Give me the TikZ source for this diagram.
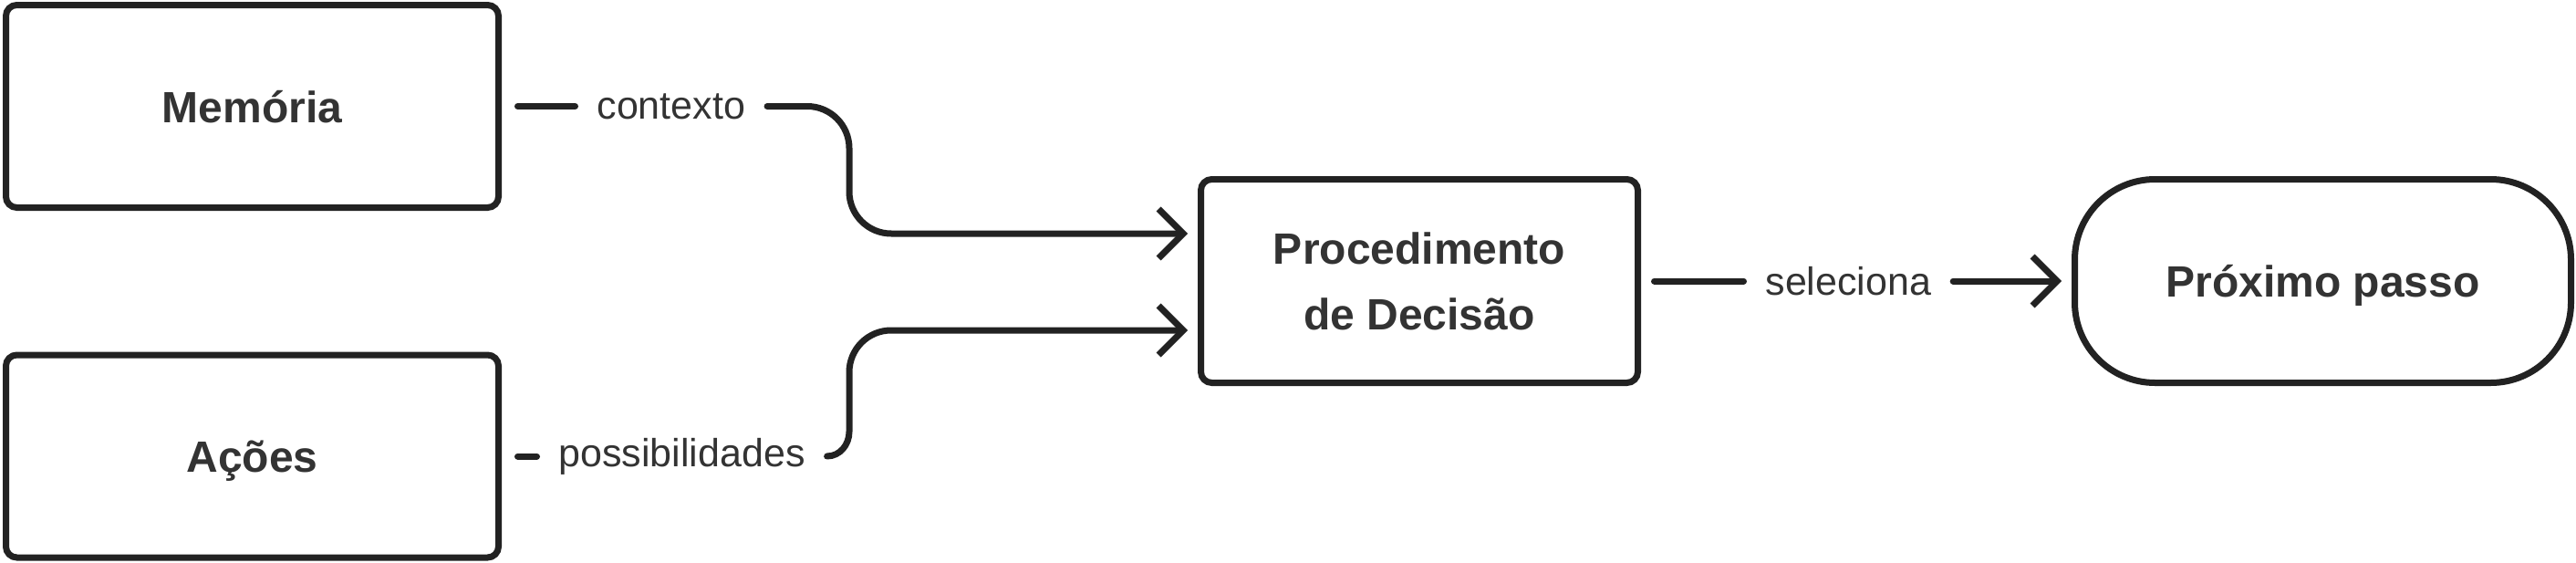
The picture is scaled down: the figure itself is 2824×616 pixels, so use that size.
\documentclass[tikz,border=0pt]{standalone}
\usepackage{fontspec}
\setmainfont{Liberation Sans}
\usetikzlibrary{positioning,arrows.meta}
\definecolor{traco}{HTML}{222222}
\definecolor{letra}{HTML}{333333}

\begin{document}
\begin{tikzpicture}[x=1pt,y=-1pt,
	bloco/.style={draw=traco,line width=7pt,rounded corners=12pt,minimum width=540pt,minimum height=222pt,text=letra,font=\fontsize{48}{72}\selectfont\bfseries},
	umalinha/.style={text height=35pt,text depth=0pt},
	rotulo/.style={text=letra,font=\fontsize{43}{50}\selectfont,inner xsep=24pt,inner ysep=0pt,outer sep=0pt},
	liga/.style={draw=traco,line width=7pt,line cap=round,line join=round},
	seta/.style={liga,-{Straight Barb[length=27pt,width=54pt]},shorten >=11pt}]
	\useasboundingbox (0,0) rectangle (2824,616);
	\node[bloco,umalinha] (mem) at (276.5,116.5) {Memória};
	\node[bloco,umalinha] (acoes) at (276.5,500) {Ações};
	\node[bloco,align=center,minimum width=479pt,minimum height=223pt] (proc) at (1556,308) {Procedimento\\de Decisão};
	\node[bloco,umalinha,minimum width=544pt,minimum height=223pt,rounded corners=88pt] (prox) at (2546.5,308) {Próximo passo};
	% rotulos das ligacoes
	\node[rotulo,right=80.5pt of mem] (ctx) {contexto};
	\node[rotulo,right=38.5pt of acoes] (pos) {possibilidades};
	\node[rotulo,right=112.5pt of proc] (sel) {seleciona};
	\coordinate (jx) at (931,0);
	\coordinate (in1) at ([yshift=52pt]proc.west);
	\coordinate (in2) at ([yshift=-54pt]proc.west);
	\coordinate[yshift=27pt] (pb) at (pos.east -| jx);
	\coordinate[yshift=-46pt] (pt) at (jx |- in2);
	\coordinate[xshift=46pt] (pr) at (jx |- in2);
	% ligacoes
	\draw[liga,shorten <=17.5pt] (mem) -- (ctx);
	\draw[seta,rounded corners=46pt] (ctx) -- (ctx -| jx) -- (jx |- in1) -- (in1);
	\draw[liga,shorten <=17.5pt] (acoes) -- (pos);
	\draw[seta] (pos) to[out=0,in=-90] (pb) -- (pt) to[out=90,in=180] (pr) -- (in2);
	\draw[liga,shorten <=14.5pt] (proc) -- (sel);
	\draw[seta] (sel) -- (prox);
\end{tikzpicture}
\end{document}
